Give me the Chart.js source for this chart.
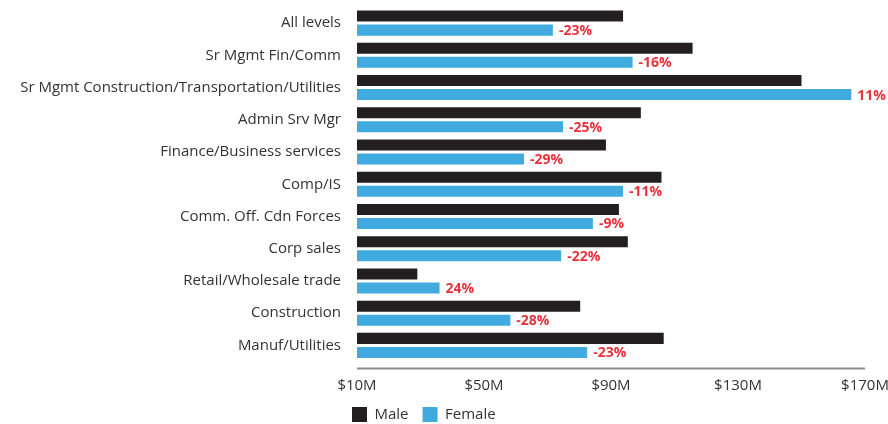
<!DOCTYPE html>
<html>
<head>
<meta charset="utf-8">
<script src="https://cdn.jsdelivr.net/npm/chart.js@4.4.0/dist/chart.umd.min.js"></script>
<style>
  html, body { margin: 0; padding: 0; background: #fff; }
  #wrap { width: 888px; height: 424px; position: relative; }
</style>
</head>
<body>
<div id="wrap"><canvas id="chart"></canvas></div>
<script>
// categories, top to bottom
const categories = [
  'All levels',
  'Sr Mgmt Fin/Comm',
  'Sr Mgmt Construction/Transportation/Utilities',
  'Admin Srv Mgr',
  'Finance/Business services',
  'Comp/IS',
  'Comm. Off. Cdn Forces',
  'Corp sales',
  'Retail/Wholesale trade',
  'Construction',
  'Manuf/Utilities'
];

// values in $M
const maleValues   = [93.8, 115.7, 150.0, 99.4, 88.4, 105.9, 92.5, 95.3, 29.0, 80.3, 106.6];
const femaleValues = [71.7,  96.8, 165.7, 74.9, 62.6,  93.8, 84.3, 74.3, 36.0, 58.3,  82.5];

// gap labels shown next to the female bars
const gapLabels = ['-23%', '-16%', '11%', '-25%', '-29%', '-11%', '-9%', '-22%', '24%', '-28%', '-23%'];

// x axis ticks ($M)
const xTicks = [10, 50, 90, 130, 170];

const FONT = "'Open Sans', 'DejaVu Sans', sans-serif";
const MALE = '#231f20';
const FEMALE = '#41abe0';

// red % labels after each female bar
const gapLabelPlugin = {
  id: 'gapLabels',
  afterDatasetsDraw(chart) {
    const ctx = chart.ctx;
    const meta = chart.getDatasetMeta(1);
    ctx.save();
    ctx.font = "bold 14px " + FONT;
    ctx.fillStyle = '#e8323c';
    ctx.textAlign = 'left';
    ctx.textBaseline = 'middle';
    meta.data.forEach((bar, i) => {
      ctx.fillText(gapLabels[i], bar.x + 6, bar.y + 1);
    });
    ctx.restore();
  }
};

// grey baseline a little below the last bar
const baselinePlugin = {
  id: 'baseline',
  afterDraw(chart) {
    const { ctx, chartArea } = chart;
    ctx.save();
    ctx.strokeStyle = '#8c8c8c';
    ctx.lineWidth = 2;
    ctx.beginPath();
    ctx.moveTo(chartArea.left, chartArea.bottom + 7);
    ctx.lineTo(chartArea.right, chartArea.bottom + 7);
    ctx.stroke();
    ctx.restore();
  }
};

// nudge legend so it starts under the plot
const legendPosPlugin = {
  id: 'legendPos',
  afterLayout(chart) {
    const lg = chart.legend;
    const pad = lg.options.labels.padding;
    const w = lg.right - lg.left;
    lg.left = chart.chartArea.left - 5 - pad;
    lg.right = lg.left + w;
  }
};

new Chart(document.getElementById('chart'), {
  type: 'bar',
  data: {
    labels: categories,
    datasets: [
      {
        label: 'Male',
        data: maleValues,
        backgroundColor: MALE,
        borderWidth: 0,
        categoryPercentage: 0.87,
        barPercentage: 0.786
      },
      {
        label: 'Female',
        data: femaleValues,
        backgroundColor: FEMALE,
        borderWidth: 0,
        categoryPercentage: 0.87,
        barPercentage: 0.786
      }
    ]
  },
  options: {
    indexAxis: 'y',
    responsive: true,
    maintainAspectRatio: false,
    animation: false,
    layout: { padding: { top: 7, bottom: -8, left: 0, right: 23 } },
    plugins: {
      legend: {
        position: 'bottom',
        align: 'start',
        labels: {
          boxWidth: 15,
          boxHeight: 15,
          padding: 14,
          color: '#333',
          font: { family: FONT, size: 15 }
        }
      },
      tooltip: { enabled: false }
    },
    scales: {
      x: {
        min: 10,
        max: 170,
        afterBuildTicks(scale) {
          scale.ticks = xTicks.map(v => ({ value: v }));
        },
        afterFit(scale) {
          scale.height = 31.5;
          scale.paddingLeft = 0;
          scale.paddingRight = 0;
        },
        grid: { display: false, drawTicks: false },
        border: { display: false },
        ticks: {
          padding: 15,
          color: '#333',
          font: { family: FONT, size: 15 },
          maxRotation: 0,
          callback: v => '$' + v + 'M'
        }
      },
      y: {
        afterFit(scale) {
          scale.width = 357;
          scale.paddingTop = 0;
          scale.paddingBottom = 0;
        },
        grid: { display: false, drawTicks: false },
        border: { display: false },
        ticks: {
          padding: 16,
          color: '#333',
          font: { family: FONT, size: 15 },
          autoSkip: false
        }
      }
    }
  },
  plugins: [gapLabelPlugin, baselinePlugin, legendPosPlugin]
});
</script>
</body>
</html>
